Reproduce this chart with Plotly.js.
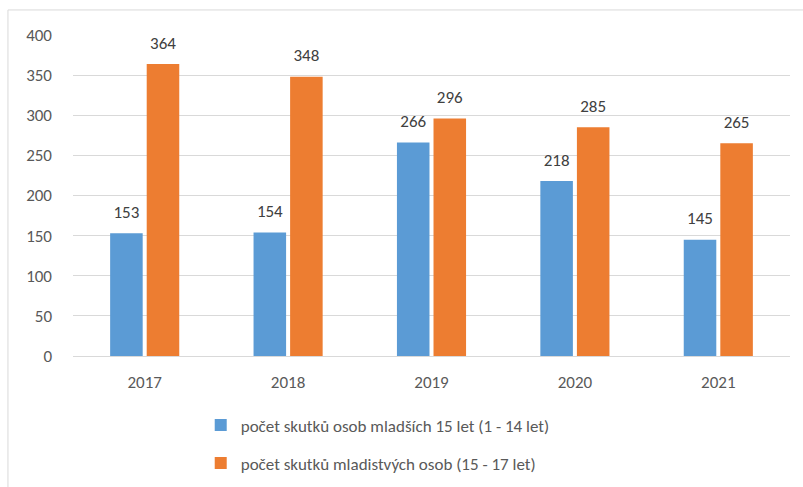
<!DOCTYPE html>
<html>
<head>
<meta charset="utf-8">
<script src="https://cdn.plot.ly/plotly-3.0.1.min.js"></script>
<style>html,body{margin:0;padding:0;background:#fff;}#chart{width:803px;height:487px;}</style>
</head>
<body>
<div id="chart"></div>
<script>
const years = ['2017', '2018', '2019', '2020', '2021'];
const seriesNames = ['počet skutků osob mladších 15 let (1 - 14 let)', 'počet skutků mladistvých osob (15 - 17 let)'];
const younger = [153, 154, 266, 218, 145];
const juvenile = [364, 348, 296, 285, 265];
const colors = ['#5b9bd5', '#ed7d31'];

const font = "Carlito, 'Open Sans', 'Liberation Sans', sans-serif";

const bars = [younger, juvenile].map((vals, i) => ({
  type: 'bar',
  name: seriesNames[i],
  legendgroup: 'g' + i,
  offsetgroup: 'o' + i,
  x: years,
  y: vals,
  marker: {color: colors[i]},
  hoverinfo: 'skip'
}));
const labels = [younger, juvenile].map((vals, i) => ({
  type: 'scatter',
  mode: 'markers+text',
  showlegend: false,
  offsetgroup: 'o' + i,
  x: years,
  y: vals,
  text: vals.map(String),
  textposition: 'top center',
  marker: {size: 16, color: 'rgba(0,0,0,0)', line: {width: 0}},
  cliponaxis: false,
  textfont: {size: 17, color: '#404040', family: font}
}));

const layout = {
  width: 803, height: 487,
  margin: {l: 73, r: 13, t: 35, b: 131, autoexpand: false},
  paper_bgcolor: '#fff', plot_bgcolor: '#fff',
  barmode: 'group',
  bargap: 0.49,
  bargroupgap: 0.11,
  scattermode: 'group',
  scattergap: 0.49,
  font: {family: font, color: '#595959', size: 17},
  xaxis: {
    type: 'category', showgrid: false, zeroline: false, automargin: false,
    showline: false, ticks: '', ticklabelstandoff: 14, tickfont: {size: 17, color: '#595959'}
  },
  yaxis: {
    range: [0, 400], dtick: 50, showgrid: true, gridcolor: '#d9d9d9', gridwidth: 1,
    zeroline: true, zerolinecolor: '#d9d9d9', zerolinewidth: 1, automargin: false,
    showline: false, ticks: '', ticklabelstandoff: 20, tickfont: {size: 17, color: '#595959'}
  },
  showlegend: true,
  legend: {
    orientation: 'v', x: 0.425, xanchor: 'center', y: -0.16, yanchor: 'top',
    font: {size: 17, color: '#595959'}, tracegroupgap: 13, itemwidth: 30
  },
  shapes: [{
    type: 'rect', xref: 'paper', yref: 'paper',
    x0: -0.0907, x1: 1.05, y0: -0.6, y1: 1.078,
    line: {color: '#d9d9d9', width: 1}, fillcolor: 'rgba(0,0,0,0)', layer: 'below'
  }]
};

Plotly.newPlot('chart', bars.concat(labels), layout, {displayModeBar: false, staticPlot: true});
</script>
</body>
</html>
